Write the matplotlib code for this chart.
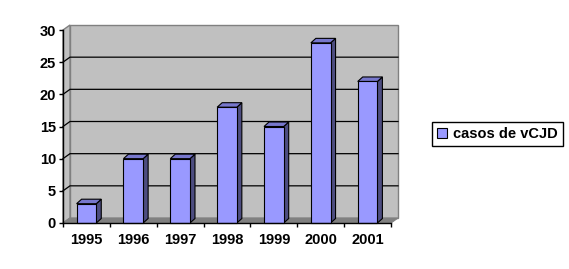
import matplotlib
matplotlib.use("Agg")
import matplotlib.pyplot as plt
from matplotlib.patches import Polygon, Rectangle

plt.rcParams['font.family'] = ['Liberation Sans', 'DejaVu Sans']
plt.rcParams['font.weight'] = 'bold'

# data
years = ['1995', '1996', '1997', '1998', '1999', '2000', '2001']
casos = [3, 10, 10, 18, 15, 28, 22]
yticks = [0, 5, 10, 15, 20, 25, 30]
serie = 'casos de vCJD'

W, H = 569, 269
fig = plt.figure(figsize=(W / 100, H / 100), dpi=100)
# front plane of the 3d box, in pixels
left, right, bottom, top = 63, 391, 223, 30
ax = fig.add_axes([left / W, 1 - bottom / H, (right - left) / W, (bottom - top) / H])
n = len(years)
ax.set_xlim(0, n)
ax.set_ylim(0, 30)

# depth offsets, pixels -> data units
px_x = (right - left) / n
px_y = (bottom - top) / 30
dx, dy = 7 / px_x, 5 / px_y
bdx, bdy = 5 / px_x, 4.5 / px_y

wall = '#c0c0c0'
edge = '#808080'

# back wall
ax.add_patch(Polygon([(dx, dy), (n + dx, dy), (n + dx, 30 + dy), (dx, 30 + dy)],
                     closed=True, fc=wall, ec=edge, lw=1, clip_on=False, zorder=1))
# side wall
ax.add_patch(Polygon([(0, 0), (dx, dy), (dx, 30 + dy), (0, 30)],
                     closed=True, fc=wall, ec=edge, lw=1, clip_on=False, zorder=1))
# floor
ax.add_patch(Polygon([(0, 0), (n, 0), (n + dx, dy), (dx, dy)],
                     closed=True, fc='#808080', ec=edge, lw=0.8, clip_on=False, zorder=1))

# gridlines on wall
for v in yticks[1:-1]:
    ax.plot([0, dx, n + dx], [v, v + dy, v + dy], color='black', lw=0.9,
            clip_on=False, zorder=2)

# bars
w = 0.42
for i, v in enumerate(casos):
    x0 = i + 0.5 - w / 2
    x1 = x0 + w
    ax.add_patch(Polygon([(x1, 0), (x1, v), (x1 + bdx, v + bdy), (x1 + bdx, bdy)],
                         closed=True, fc='#4d4d80', ec='black', lw=0.8,
                         clip_on=False, zorder=3))
    ax.add_patch(Polygon([(x0, v), (x1, v), (x1 + bdx, v + bdy), (x0 + bdx, v + bdy)],
                         closed=True, fc='#7777cc', ec='black', lw=0.8,
                         clip_on=False, zorder=3))
    ax.add_patch(Rectangle((x0, 0), w, v, fc='#9999ff', ec='black', lw=0.8,
                           clip_on=False, zorder=4))

ax.set_facecolor('none')
for s in ['top', 'right']:
    ax.spines[s].set_visible(False)
for s in ['left', 'bottom']:
    ax.spines[s].set_color('black')
    ax.spines[s].set_linewidth(1)
    ax.spines[s].set_zorder(5)

ax.set_yticks(yticks)
ax.set_yticklabels([str(t) for t in yticks], fontsize=10.5, fontweight='bold')
ax.set_xticks(range(n + 1))
ax.set_xticklabels([])
ax.set_xticks([i + 0.5 for i in range(n)], minor=True)
ax.set_xticklabels(years, minor=True, fontsize=10.5, fontweight='bold')
ax.tick_params(axis='x', which='major', length=3, width=1, direction='out')
ax.tick_params(axis='x', which='minor', length=0, pad=7)
ax.tick_params(axis='y', length=3, width=1, direction='out', pad=2)

# legend box on the right
h = Rectangle((0, 0), 1, 1, fc='#9999ff', ec='black', lw=0.8)
fig.legend([h], [serie], loc='center left', bbox_to_anchor=(432 / W, 1 - 134 / H),
           fancybox=False, edgecolor='black', framealpha=1, borderaxespad=0,
           handlelength=0.7, handleheight=0.7, handletextpad=0.4, borderpad=0.35,
           prop={'size': 10.5, 'weight': 'bold'})

fig.savefig('out.png', dpi=100)
